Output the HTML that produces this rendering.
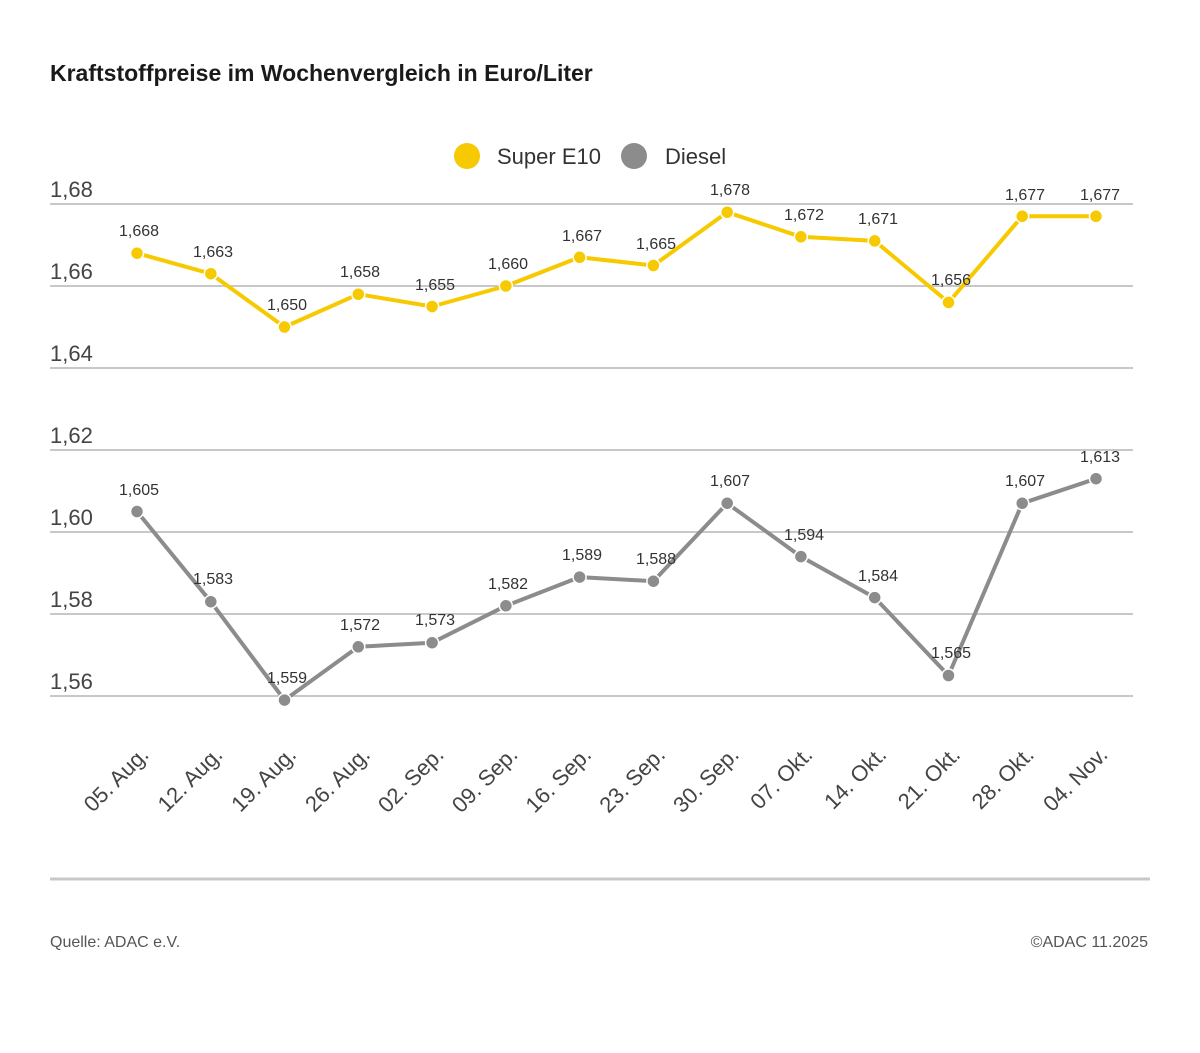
<!DOCTYPE html>
<html><head><meta charset="utf-8"><style>
body{margin:0;background:#fff;}
svg{display:block;font-family:"Liberation Sans",sans-serif;}
</style></head><body>
<svg width="1200" height="1053" viewBox="0 0 1200 1053" xmlns="http://www.w3.org/2000/svg">
<text x="50" y="81" font-size="23" font-weight="bold" fill="#1a1a1a">Kraftstoffpreise im Wochenvergleich in Euro/Liter</text>
<circle cx="467" cy="156" r="13" fill="#f7c900"/>
<text x="497" y="164" font-size="22" fill="#333">Super E10</text>
<circle cx="634" cy="156" r="13" fill="#8c8c8c"/>
<text x="665" y="164" font-size="22" fill="#333">Diesel</text>
<g stroke="#c8c8c8" stroke-width="2">
<line x1="50" x2="1133" y1="204" y2="204"/><line x1="50" x2="1133" y1="286" y2="286"/>
<line x1="50" x2="1133" y1="368" y2="368"/><line x1="50" x2="1133" y1="450" y2="450"/>
<line x1="50" x2="1133" y1="532" y2="532"/><line x1="50" x2="1133" y1="614" y2="614"/>
<line x1="50" x2="1133" y1="696" y2="696"/>
</g>
<g font-size="22" fill="#444">
<text x="50" y="197">1,68</text><text x="50" y="279">1,66</text><text x="50" y="361">1,64</text>
<text x="50" y="443">1,62</text><text x="50" y="525">1,60</text><text x="50" y="607">1,58</text><text x="50" y="689">1,56</text>
</g>
<line x1="50" x2="1150" y1="879" y2="879" stroke="#c8c8c8" stroke-width="3"/>
<text x="50" y="947" font-size="16" fill="#555">Quelle: ADAC e.V.</text>
<text x="1148" y="947" font-size="16" fill="#555" text-anchor="end">©ADAC 11.2025</text>

<polyline fill="none" stroke="#f7c900" stroke-width="4" stroke-linejoin="round" points="137,253.2 210.8,273.7 284.5,327 358.3,294.2 432.1,306.5 505.9,286 579.6,257.3 653.4,265.5 727.2,212.2 800.9,236.8 874.7,240.9 948.5,302.4 1022.2,216.3 1096,216.3"/>
<polyline fill="none" stroke="#8c8c8c" stroke-width="4" stroke-linejoin="round" points="137,511.5 210.8,601.7 284.5,700.1 358.3,646.8 432.1,642.7 505.9,605.8 579.6,577.1 653.4,581.2 727.2,503.3 800.9,556.6 874.7,597.6 948.5,675.5 1022.2,503.3 1096,478.7"/>
<g fill="#f7c900" stroke="#fff" stroke-width="1.5">
<circle cx="137" cy="253.2" r="6.5"/><circle cx="210.8" cy="273.7" r="6.5"/><circle cx="284.5" cy="327" r="6.5"/><circle cx="358.3" cy="294.2" r="6.5"/><circle cx="432.1" cy="306.5" r="6.5"/><circle cx="505.9" cy="286" r="6.5"/><circle cx="579.6" cy="257.3" r="6.5"/><circle cx="653.4" cy="265.5" r="6.5"/><circle cx="727.2" cy="212.2" r="6.5"/><circle cx="800.9" cy="236.8" r="6.5"/><circle cx="874.7" cy="240.9" r="6.5"/><circle cx="948.5" cy="302.4" r="6.5"/><circle cx="1022.2" cy="216.3" r="6.5"/><circle cx="1096" cy="216.3" r="6.5"/>
</g>
<g fill="#8c8c8c" stroke="#fff" stroke-width="1.5">
<circle cx="137" cy="511.5" r="6.5"/><circle cx="210.8" cy="601.7" r="6.5"/><circle cx="284.5" cy="700.1" r="6.5"/><circle cx="358.3" cy="646.8" r="6.5"/><circle cx="432.1" cy="642.7" r="6.5"/><circle cx="505.9" cy="605.8" r="6.5"/><circle cx="579.6" cy="577.1" r="6.5"/><circle cx="653.4" cy="581.2" r="6.5"/><circle cx="727.2" cy="503.3" r="6.5"/><circle cx="800.9" cy="556.6" r="6.5"/><circle cx="874.7" cy="597.6" r="6.5"/><circle cx="948.5" cy="675.5" r="6.5"/><circle cx="1022.2" cy="503.3" r="6.5"/><circle cx="1096" cy="478.7" r="6.5"/>
</g>
<g font-size="16" fill="#333" text-anchor="middle">
<text x="139" y="236">1,668</text><text x="213" y="257">1,663</text><text x="287" y="310">1,650</text><text x="360" y="277">1,658</text><text x="435" y="290">1,655</text><text x="508" y="269">1,660</text><text x="582" y="241">1,667</text><text x="656" y="249">1,665</text><text x="730" y="195">1,678</text><text x="804" y="220">1,672</text><text x="878" y="224">1,671</text><text x="951" y="285">1,656</text><text x="1025" y="200">1,677</text><text x="1100" y="200">1,677</text>
<text x="139" y="495">1,605</text><text x="213" y="584">1,583</text><text x="287" y="683">1,559</text><text x="360" y="630">1,572</text><text x="435" y="625">1,573</text><text x="508" y="589">1,582</text><text x="582" y="560">1,589</text><text x="656" y="564">1,588</text><text x="730" y="486">1,607</text><text x="804" y="540">1,594</text><text x="878" y="581">1,584</text><text x="951" y="658">1,565</text><text x="1025" y="486">1,607</text><text x="1100" y="462">1,613</text>
</g>
<g font-size="22" fill="#444" text-anchor="end">
<text x="150" y="756" transform="rotate(-45 150 756)">05. Aug.</text>
<text x="223.8" y="756" transform="rotate(-45 223.8 756)">12. Aug.</text>
<text x="297.5" y="756" transform="rotate(-45 297.5 756)">19. Aug.</text>
<text x="371.3" y="756" transform="rotate(-45 371.3 756)">26. Aug.</text>
<text x="445.1" y="756" transform="rotate(-45 445.1 756)">02. Sep.</text>
<text x="518.9" y="756" transform="rotate(-45 518.9 756)">09. Sep.</text>
<text x="592.6" y="756" transform="rotate(-45 592.6 756)">16. Sep.</text>
<text x="666.4" y="756" transform="rotate(-45 666.4 756)">23. Sep.</text>
<text x="740.2" y="756" transform="rotate(-45 740.2 756)">30. Sep.</text>
<text x="813.9" y="756" transform="rotate(-45 813.9 756)">07. Okt.</text>
<text x="887.7" y="756" transform="rotate(-45 887.7 756)">14. Okt.</text>
<text x="961.5" y="756" transform="rotate(-45 961.5 756)">21. Okt.</text>
<text x="1035.2" y="756" transform="rotate(-45 1035.2 756)">28. Okt.</text>
<text x="1109" y="756" transform="rotate(-45 1109 756)">04. Nov.</text>
</g>
</svg>
</body></html>
